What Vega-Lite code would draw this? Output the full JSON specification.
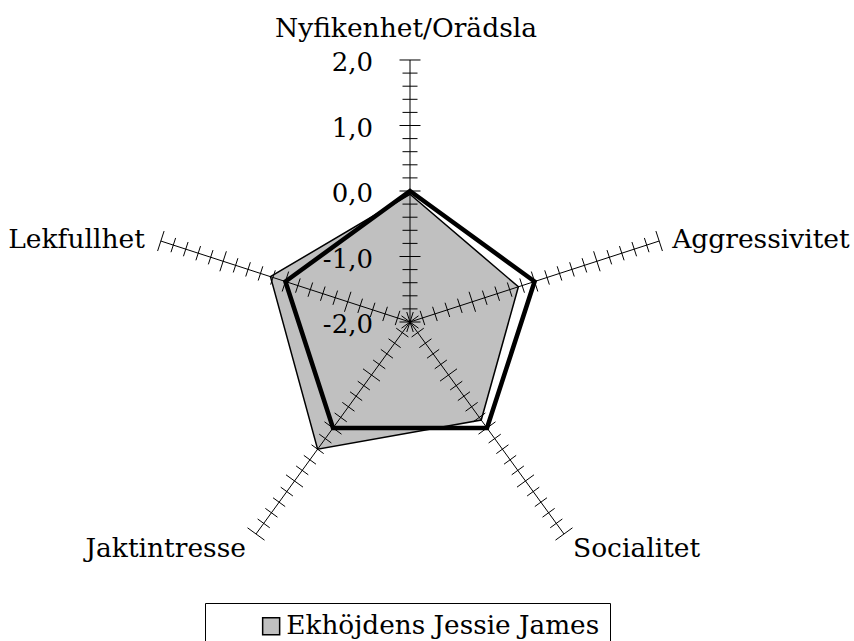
{
  "$schema": "https://vega.github.io/schema/vega-lite/v6.json",
  "width": 854,
  "height": 641,
  "autosize": "none",
  "padding": 0,
  "background": "white",
  "config": {
    "view": {"stroke": null},
    "locale": {"number": {"decimal": ",", "thousands": " ", "grouping": [3], "currency": ["", " kr"], "minus": "-"}},
    "text": {"font": "DejaVu Serif", "fontSize": 26.5, "color": "black"}
  },
  "datasets": {
    "serier": [
      {"serie": "Ekhöjdens Jessie James", "kategori": "Nyfikenhet/Orädsla", "i": 0, "varde": -0.05},
      {"serie": "Ekhöjdens Jessie James", "kategori": "Aggressivitet", "i": 1, "varde": -0.26},
      {"serie": "Ekhöjdens Jessie James", "kategori": "Socialitet", "i": 2, "varde": -0.15},
      {"serie": "Ekhöjdens Jessie James", "kategori": "Jaktintresse", "i": 3, "varde": 0.4},
      {"serie": "Ekhöjdens Jessie James", "kategori": "Lekfullhet", "i": 4, "varde": 0.24},
      {"serie": "Medel", "kategori": "Nyfikenhet/Orädsla", "i": 0, "varde": 0},
      {"serie": "Medel", "kategori": "Aggressivitet", "i": 1, "varde": 0},
      {"serie": "Medel", "kategori": "Socialitet", "i": 2, "varde": 0},
      {"serie": "Medel", "kategori": "Jaktintresse", "i": 3, "varde": 0},
      {"serie": "Medel", "kategori": "Lekfullhet", "i": 4, "varde": 0}
    ],
    "axlar": [
      {"kategori": "Nyfikenhet/Orädsla", "i": 0, "ticks": [-2, -1.8, -1.6, -1.4, -1.2, -1, -0.8, -0.6, -0.4, -0.2, 0, 0.2, 0.4, 0.6, 0.8, 1, 1.2, 1.4, 1.6, 1.8, 2]},
      {"kategori": "Aggressivitet", "i": 1, "ticks": [-2, -1.8, -1.6, -1.4, -1.2, -1, -0.8, -0.6, -0.4, -0.2, 0, 0.2, 0.4, 0.6, 0.8, 1, 1.2, 1.4, 1.6, 1.8, 2]},
      {"kategori": "Socialitet", "i": 2, "ticks": [-2, -1.8, -1.6, -1.4, -1.2, -1, -0.8, -0.6, -0.4, -0.2, 0, 0.2, 0.4, 0.6, 0.8, 1, 1.2, 1.4, 1.6, 1.8, 2]},
      {"kategori": "Jaktintresse", "i": 3, "ticks": [-2, -1.8, -1.6, -1.4, -1.2, -1, -0.8, -0.6, -0.4, -0.2, 0, 0.2, 0.4, 0.6, 0.8, 1, 1.2, 1.4, 1.6, 1.8, 2]},
      {"kategori": "Lekfullhet", "i": 4, "ticks": [-2, -1.8, -1.6, -1.4, -1.2, -1, -0.8, -0.6, -0.4, -0.2, 0, 0.2, 0.4, 0.6, 0.8, 1, 1.2, 1.4, 1.6, 1.8, 2]}
    ]
  },
  "layer": [
    {
      "data": {"name": "serier"},
      "transform": [
        {"filter": "datum.serie === 'Ekhöjdens Jessie James'"},
        {"calculate": "PI/2 - datum.i*2*PI/5", "as": "theta"},
        {"calculate": "(datum.varde+2)*cos(datum.theta)", "as": "px"},
        {"calculate": "(datum.varde+2)*sin(datum.theta)", "as": "py"}
      ],
      "mark": {"type": "line", "interpolate": "linear-closed", "stroke": "black", "strokeWidth": 1.5},
      "encoding": {
        "x": {"field": "px", "type": "quantitative", "scale": {"domain": [-6.26, 6.779], "zero": false, "nice": false}, "axis": null},
        "y": {"field": "py", "type": "quantitative", "scale": {"domain": [-4.87, 4.916], "zero": false, "nice": false}, "axis": null},
        "order": {"field": "i", "type": "quantitative"},
        "fill": {
          "field": "serie", "type": "nominal",
          "scale": {"domain": ["Ekhöjdens Jessie James"], "range": ["#c0c0c0"]},
          "legend": {
            "title": null, "orient": "none", "legendX": 205, "legendY": 603,
            "strokeColor": "black", "padding": 10, "symbolOffset": 43,
            "symbolType": "square", "symbolSize": 289, "symbolStrokeColor": "black", "symbolStrokeWidth": 1.5,
            "symbolFillColor": "#c0c0c0",
            "labelFont": "DejaVu Serif", "labelFontSize": 26.3, "labelColor": "black", "labelOffset": 2, "labelLimit": 600
          }
        }
      }
    },
    {
      "data": {"name": "axlar"},
      "transform": [
        {"calculate": "PI/2 - datum.i*2*PI/5", "as": "theta"},
        {"calculate": "0", "as": "cx"},
        {"calculate": "0", "as": "cy"},
        {"calculate": "4*cos(datum.theta)", "as": "ex"},
        {"calculate": "4*sin(datum.theta)", "as": "ey"}
      ],
      "mark": {"type": "rule", "color": "black", "strokeWidth": 1},
      "encoding": {
        "x": {"field": "cx", "type": "quantitative", "scale": {"domain": [-6.26, 6.779], "zero": false, "nice": false}, "axis": null},
        "y": {"field": "cy", "type": "quantitative", "scale": {"domain": [-4.87, 4.916], "zero": false, "nice": false}, "axis": null},
        "x2": {"field": "ex"},
        "y2": {"field": "ey"}
      }
    },
    {
      "data": {"name": "axlar"},
      "transform": [
        {"flatten": ["ticks"]},
        {"calculate": "PI/2 - datum.i*2*PI/5", "as": "theta"},
        {"calculate": "datum.ticks + 2", "as": "r"},
        {"calculate": "(abs(datum.ticks - round(datum.ticks)) < 0.000001 ? 10.5 : 7.5)/65.5", "as": "h"},
        {"calculate": "datum.r*cos(datum.theta) + datum.h*sin(datum.theta)", "as": "px"},
        {"calculate": "datum.r*sin(datum.theta) - datum.h*cos(datum.theta)", "as": "py"},
        {"calculate": "datum.r*cos(datum.theta) - datum.h*sin(datum.theta)", "as": "px2"},
        {"calculate": "datum.r*sin(datum.theta) + datum.h*cos(datum.theta)", "as": "py2"}
      ],
      "mark": {"type": "rule", "color": "black", "strokeWidth": 1},
      "encoding": {
        "x": {"field": "px", "type": "quantitative", "scale": {"domain": [-6.26, 6.779], "zero": false, "nice": false}, "axis": null},
        "y": {"field": "py", "type": "quantitative", "scale": {"domain": [-4.87, 4.916], "zero": false, "nice": false}, "axis": null},
        "x2": {"field": "px2"},
        "y2": {"field": "py2"}
      }
    },
    {
      "data": {"name": "serier"},
      "transform": [
        {"filter": "datum.serie === 'Medel'"},
        {"calculate": "PI/2 - datum.i*2*PI/5", "as": "theta"},
        {"calculate": "(datum.varde+2)*cos(datum.theta)", "as": "px"},
        {"calculate": "(datum.varde+2)*sin(datum.theta)", "as": "py"}
      ],
      "mark": {"type": "line", "interpolate": "linear-closed", "stroke": "black", "strokeWidth": 4.5},
      "encoding": {
        "x": {"field": "px", "type": "quantitative", "scale": {"domain": [-6.26, 6.779], "zero": false, "nice": false}, "axis": null},
        "y": {"field": "py", "type": "quantitative", "scale": {"domain": [-4.87, 4.916], "zero": false, "nice": false}, "axis": null},
        "order": {"field": "i", "type": "quantitative"}
      }
    },
    {
      "data": {"name": "axlar"},
      "transform": [
        {"filter": "datum.i === 0"},
        {"flatten": ["ticks"]},
        {"filter": "abs(datum.ticks - round(datum.ticks)) < 0.000001"},
        {"calculate": "0", "as": "px"},
        {"calculate": "datum.ticks + 2", "as": "py"}
      ],
      "mark": {"type": "text", "align": "right", "baseline": "middle", "dx": -37, "dy": 3, "fontSize": 26},
      "encoding": {
        "x": {"field": "px", "type": "quantitative", "scale": {"domain": [-6.26, 6.779], "zero": false, "nice": false}, "axis": null},
        "y": {"field": "py", "type": "quantitative", "scale": {"domain": [-4.87, 4.916], "zero": false, "nice": false}, "axis": null},
        "text": {"field": "ticks", "type": "quantitative", "format": ".1f"}
      }
    },
    {
      "data": {"name": "axlar"},
      "transform": [
        {"filter": "datum.i === 0"},
        {"calculate": "PI/2 - datum.i*2*PI/5", "as": "theta"},
        {"calculate": "4*cos(datum.theta)", "as": "px"},
        {"calculate": "4*sin(datum.theta)", "as": "py"}
      ],
      "mark": {"type": "text", "align": "center", "baseline": "alphabetic", "dx": -4, "dy": -23},
      "encoding": {
        "x": {"field": "px", "type": "quantitative", "scale": {"domain": [-6.26, 6.779], "zero": false, "nice": false}, "axis": null},
        "y": {"field": "py", "type": "quantitative", "scale": {"domain": [-4.87, 4.916], "zero": false, "nice": false}, "axis": null},
        "text": {"field": "kategori", "type": "nominal"}
      }
    },
    {
      "data": {"name": "axlar"},
      "transform": [
        {"filter": "datum.i === 1"},
        {"calculate": "PI/2 - datum.i*2*PI/5", "as": "theta"},
        {"calculate": "4*cos(datum.theta)", "as": "px"},
        {"calculate": "4*sin(datum.theta)", "as": "py"}
      ],
      "mark": {"type": "text", "align": "left", "baseline": "alphabetic", "dx": 13, "dy": 7},
      "encoding": {
        "x": {"field": "px", "type": "quantitative", "scale": {"domain": [-6.26, 6.779], "zero": false, "nice": false}, "axis": null},
        "y": {"field": "py", "type": "quantitative", "scale": {"domain": [-4.87, 4.916], "zero": false, "nice": false}, "axis": null},
        "text": {"field": "kategori", "type": "nominal"}
      }
    },
    {
      "data": {"name": "axlar"},
      "transform": [
        {"filter": "datum.i === 2"},
        {"calculate": "PI/2 - datum.i*2*PI/5", "as": "theta"},
        {"calculate": "4*cos(datum.theta)", "as": "px"},
        {"calculate": "4*sin(datum.theta)", "as": "py"}
      ],
      "mark": {"type": "text", "align": "left", "baseline": "alphabetic", "dx": 9, "dy": 23},
      "encoding": {
        "x": {"field": "px", "type": "quantitative", "scale": {"domain": [-6.26, 6.779], "zero": false, "nice": false}, "axis": null},
        "y": {"field": "py", "type": "quantitative", "scale": {"domain": [-4.87, 4.916], "zero": false, "nice": false}, "axis": null},
        "text": {"field": "kategori", "type": "nominal"}
      }
    },
    {
      "data": {"name": "axlar"},
      "transform": [
        {"filter": "datum.i === 3"},
        {"calculate": "PI/2 - datum.i*2*PI/5", "as": "theta"},
        {"calculate": "4*cos(datum.theta)", "as": "px"},
        {"calculate": "4*sin(datum.theta)", "as": "py"}
      ],
      "mark": {"type": "text", "align": "right", "baseline": "alphabetic", "dx": -10, "dy": 23},
      "encoding": {
        "x": {"field": "px", "type": "quantitative", "scale": {"domain": [-6.26, 6.779], "zero": false, "nice": false}, "axis": null},
        "y": {"field": "py", "type": "quantitative", "scale": {"domain": [-4.87, 4.916], "zero": false, "nice": false}, "axis": null},
        "text": {"field": "kategori", "type": "nominal"}
      }
    },
    {
      "data": {"name": "axlar"},
      "transform": [
        {"filter": "datum.i === 4"},
        {"calculate": "PI/2 - datum.i*2*PI/5", "as": "theta"},
        {"calculate": "4*cos(datum.theta)", "as": "px"},
        {"calculate": "4*sin(datum.theta)", "as": "py"}
      ],
      "mark": {"type": "text", "align": "right", "baseline": "alphabetic", "dx": -16, "dy": 7},
      "encoding": {
        "x": {"field": "px", "type": "quantitative", "scale": {"domain": [-6.26, 6.779], "zero": false, "nice": false}, "axis": null},
        "y": {"field": "py", "type": "quantitative", "scale": {"domain": [-4.87, 4.916], "zero": false, "nice": false}, "axis": null},
        "text": {"field": "kategori", "type": "nominal"}
      }
    }
  ]
}
